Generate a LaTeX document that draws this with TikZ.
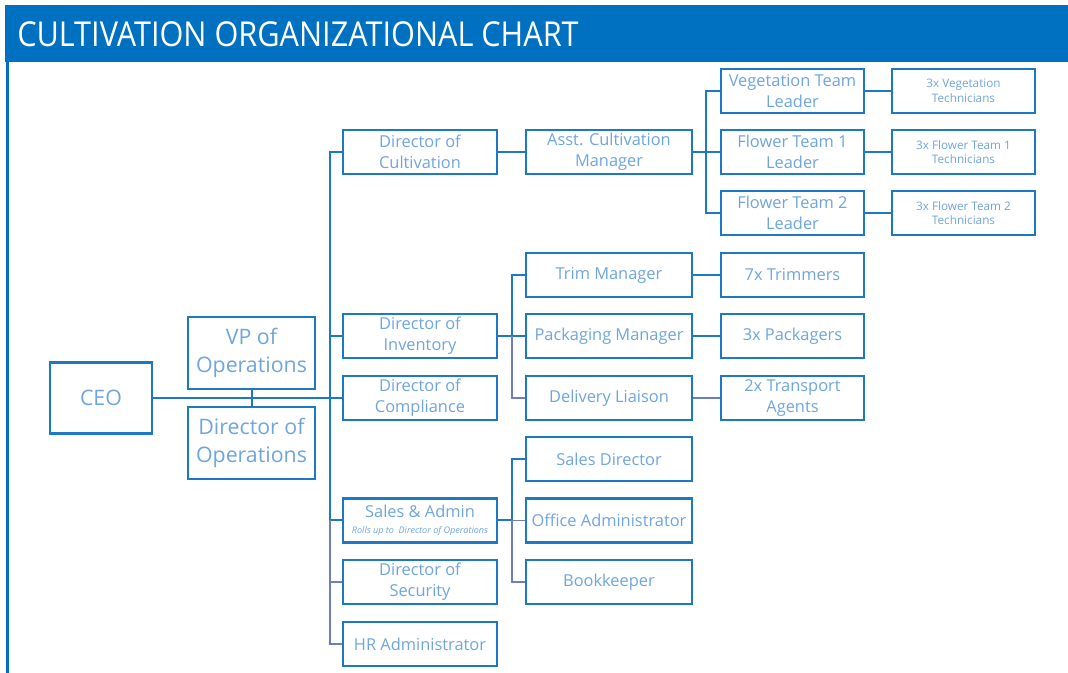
\documentclass[tikz,border=0pt]{standalone}
\usepackage{fontspec}
\setmainfont{Open Sans}
\usetikzlibrary{positioning}
\definecolor{frameblue}{RGB}{0,112,192}
\definecolor{boxline}{RGB}{30,120,200}
\definecolor{boxtext}{RGB}{110,165,222}
\definecolor{linkpale}{RGB}{110,125,190}
\begin{document}
\begin{tikzpicture}[x=0.75pt,y=-0.75pt,
  box/.style={draw=boxline,line width=1.7pt,text=boxtext,align=center,inner sep=0pt,
    minimum height=33pt,font=\fontsize{12.3}{15.5}\selectfont},
  colA/.style={box,minimum width=115.5pt},
  colB/.style={box,minimum width=124.5pt},
  colC/.style={box,minimum width=107.25pt},
  techbox/.style={box,minimum width=107.25pt,font=\fontsize{8.8}{11}\selectfont},
  bigbox/.style={box,font=\fontsize{16}{21}\selectfont},
  link/.style={draw=boxline,line width=1.5pt},
  palelink/.style={draw=linkpale,line width=1pt}]
\useasboundingbox (0,0) rectangle (1068,673);
% frame: title band and left rule
\fill[frameblue] (5,5) rectangle (1068,62);
\draw[frameblue,line width=2.4pt] (7.5,62) -- (7.5,673);
\node[anchor=west,text=white,inner sep=0pt,font=\fontsize{23}{25}\selectfont] (title) at (17,34)
  {\scalebox{1}[1.12]{CULTIVATION ORGANIZATIONAL CHART}};

% top level
\node[bigbox,minimum width=76.5pt,minimum height=53.25pt] (ceo) at (101,398) {CEO};
\node[bigbox,minimum width=95.25pt,minimum height=54pt] (vp) at (251.5,353) {VP of\\Operations};
\node[bigbox,minimum width=95.25pt,minimum height=54pt] (dops) at (251.5,443) {Director of\\Operations};

% directors
\node[colA] (cult) at (420,152) {Director of\\Cultivation};
\node[colA] (inv) at (420,336) {Director of\\Inventory};
\node[colA] (comp) at (420,398) {Director of\\Compliance};
\node[colA] (sales) at (420,520.5) {Sales \& Admin\\[-3pt]{\fontsize{6.8}{7}\selectfont\itshape Rolls up to\ \ Director of Operations}};
\node[colA] (sec) at (420,582) {Director of\\Security};
\node[colA] (hr) at (420,644) {HR Administrator};

% managers
\node[colB] (asst) at (609,152) {Asst. Cultivation\\Manager};
\node[colB] (trim) at (609,275) {Trim Manager};
\node[colB] (pack) at (609,336) {Packaging Manager};
\node[colB] (deliv) at (609,398) {Delivery Liaison};
\node[colB] (sdir) at (609,459) {Sales Director};
\node[colB] (office) at (609,520.5) {Office Administrator};
\node[colB] (book) at (609,582) {Bookkeeper};

% team leaders and staff
\node[colC] (veg) at (792.5,91) {Vegetation Team\\Leader};
\node[colC] (ft1) at (792.5,152) {Flower Team 1\\Leader};
\node[colC] (ft2) at (792.5,213) {Flower Team 2\\Leader};
\node[colC] (trimmers) at (792.5,275) {7x Trimmers};
\node[colC] (packers) at (792.5,336) {3x Packagers};
\node[colC] (agents) at (792.5,398) {2x Transport\\Agents};

\node[techbox] (vegt) at (963.5,91) {3x Vegetation\\Technicians};
\node[techbox] (ft1t) at (963.5,152) {3x Flower Team 1\\Technicians};
\node[techbox] (ft2t) at (963.5,213) {3x Flower Team 2\\Technicians};

% bus positions
\coordinate (trunk) at (330,0);
\coordinate (busB) at (512,0);
\coordinate (busC) at (706,0);

% CEO line and operations pair
\draw[link] (ceo.east) -- (comp.west);
\draw[link] (vp.south) -- (dops.north);

% trunk to directors
\draw[link] (cult.west) -| (trunk |- sales.west) -- (sales.west);
\draw[link] (inv.west) -- (trunk |- inv.west);
\draw[palelink] (trunk |- sales.west) |- (hr.west);
\draw[palelink] (trunk |- sec.west) -- (sec.west);

% cultivation branch
\draw[link] (cult.east) -- (asst.west);
\draw[link] (asst.east) -- (busC |- asst.east);
\draw[link] (veg.west) -| (busC |- ft2.west) -- (ft2.west);
\draw[link] (busC |- ft1.west) -- (ft1.west);
\draw[link] (veg.east) -- (vegt.west);
\draw[link] (ft1.east) -- (ft1t.west);
\draw[link] (ft2.east) -- (ft2t.west);

% inventory branch
\draw[link] (inv.east) -- (pack.west);
\draw[link] (trim.west) -| (busB |- pack.west);
\draw[palelink] (busB |- pack.west) |- (deliv.west);
\draw[link] (trim.east) -- (trimmers.west);
\draw[link] (pack.east) -- (packers.west);
\draw[palelink] (deliv.east) -- (agents.west);

% sales and admin branch
\draw[link] (sales.east) -- (busB |- sales.east);
\draw[palelink] (busB |- office.west) -- (office.west);
\draw[link] (sdir.west) -| (busB |- office.west);
\draw[palelink] (busB |- office.west) |- (book.west);
\end{tikzpicture}
\end{document}
